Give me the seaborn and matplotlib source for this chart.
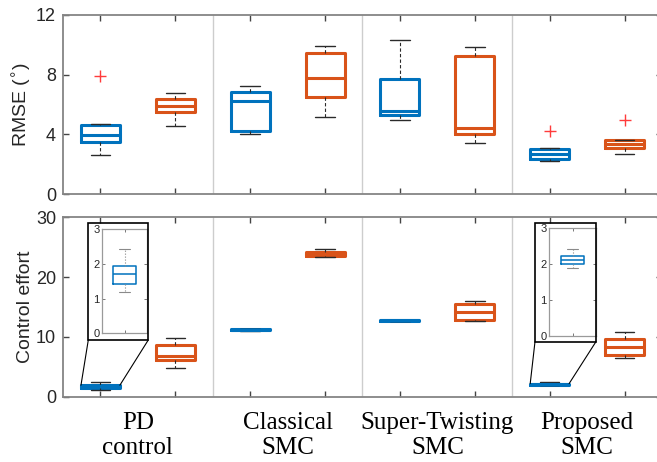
import numpy as np
import pandas as pd
import matplotlib
matplotlib.use("Agg")
import matplotlib.pyplot as plt
from matplotlib.patches import Rectangle, ConnectionPatch
import seaborn as sns

# categories / cases
methods = ["PD\ncontrol", "Classical\nSMC", "Super-Twisting\nSMC", "Proposed\nSMC"]
cases = ["Case 1", "Case 2"]

# RMSE (deg), one list of trials per method
rmse_case1 = [
    [2.63, 3.30, 3.47, 3.70, 3.94, 4.40, 4.63, 4.71, 7.90],
    [4.05, 4.15, 4.25, 5.40, 6.21, 6.60, 6.85, 7.05, 7.23],
    [4.96, 5.15, 5.30, 5.45, 5.58, 6.80, 7.72, 8.90, 10.29],
    [2.20, 2.28, 2.34, 2.52, 2.69, 2.90, 3.06, 3.08, 4.25],
]
rmse_case2 = [
    [4.58, 5.20, 5.50, 5.75, 5.92, 6.15, 6.37, 6.55, 6.79],
    [5.18, 6.10, 6.52, 7.10, 7.75, 8.60, 9.46, 9.70, 9.93],
    [3.41, 3.80, 4.01, 4.20, 4.43, 7.50, 9.26, 9.55, 9.86],
    [2.67, 2.95, 3.09, 3.22, 3.36, 3.50, 3.63, 3.65, 4.96],
]

# control effort
effort_case1 = [
    [1.18, 1.30, 1.42, 1.58, 1.71, 1.85, 1.93, 2.10, 2.41],
    [11.05, 11.12, 11.15, 11.18, 11.20, 11.22, 11.25, 11.28, 11.35],
    [12.65, 12.70, 12.72, 12.75, 12.77, 12.79, 12.82, 12.85, 12.90],
    [1.89, 1.94, 1.98, 2.04, 2.09, 2.15, 2.20, 2.30, 2.42],
]
effort_case2 = [
    [4.85, 5.60, 6.09, 6.45, 6.80, 7.90, 8.70, 9.30, 9.82],
    [23.30, 23.38, 23.45, 23.62, 23.80, 23.98, 24.15, 24.40, 24.70],
    [12.66, 12.75, 12.83, 13.50, 14.20, 14.90, 15.55, 15.75, 15.95],
    [6.47, 6.70, 6.92, 7.60, 8.31, 9.00, 9.65, 10.20, 10.87],
]

rmse_ticks = [0, 4, 8, 12]
effort_ticks = [0, 10, 20, 30]
inset_ticks = [0, 1, 2, 3]

blue = "#0072BD"
orange = "#D95319"
spine_col = "#858585"
text_col = "#262626"

sns.set_style("ticks")
plt.rcParams["font.family"] = ["Liberation Sans", "DejaVu Sans"]
plt.rcParams["axes.edgecolor"] = spine_col

rows = []
for i, m in enumerate(methods):
    for c, rl, el in [(cases[0], rmse_case1, effort_case1), (cases[1], rmse_case2, effort_case2)]:
        for r, e in zip(rl[i], el[i]):
            rows.append({"method": m, "case": c, "rmse": r, "effort": e})
df = pd.DataFrame(rows)

fig = plt.figure(figsize=(6.57, 4.62), dpi=100)
ax1 = fig.add_axes([0.0959, 0.5794, 0.9117, 0.3888])
ax2 = fig.add_axes([0.0959, 0.1413, 0.9117, 0.3884])

box_kw = dict(
    x="method", hue="case", palette=[blue, orange], fill=False,
    width=1.0, gap=0.48, linewidth=2.2, whis=1.5, legend=False,
    whiskerprops=dict(color="#2a2a2a", linewidth=0.8, linestyle=(0, (3, 2))),
    capprops=dict(color="#2a2a2a", linewidth=1.0),
    flierprops=dict(marker="+", markeredgecolor="#ff3b3b", markersize=9,
                    markeredgewidth=1.0),
)
sns.boxplot(data=df, y="rmse", ax=ax1, **box_kw)
sns.boxplot(data=df, y="effort", ax=ax2, **box_kw)

box_pos = (np.arange(len(methods))[:, None] + np.array([-0.25, 0.25])).ravel()

for ax, yt in [(ax1, rmse_ticks), (ax2, effort_ticks)]:
    ax.set_xlim(-0.5, 3.5)
    ax.set_ylim(yt[0], yt[-1])
    ax.set_yticks(yt)
    for xs in [0.5, 1.5, 2.5]:
        ax.axvline(xs, color="#cdcdcd", lw=1.0, zorder=0)
    ax.set_xticks(np.arange(len(methods)))
    ax.set_xticks(box_pos, minor=True)
    ax.tick_params(axis="x", which="major", length=0)
    ax.tick_params(axis="x", which="minor", direction="in", length=4,
                   width=1.0, top=True, bottom=True, color="#444444")
    ax.tick_params(axis="y", direction="in", length=4, width=1.0,
                   left=True, right=True, labelsize=13, labelcolor=text_col,
                   color="#444444", pad=5)
    for s in ax.spines.values():
        s.set_visible(True)
        s.set_color(spine_col)
        s.set_linewidth(1.3)
    ax.set_xlabel("")
    ax.yaxis.set_label_coords(-0.049, 0.5)

ax1.set_xticklabels([])
ax1.set_ylabel("RMSE ($^{\\circ}$)", fontsize=14, color=text_col)
ax2.set_ylabel("Control effort", fontsize=14, color=text_col)
ax2.set_xticklabels(methods, fontfamily="Liberation Serif", fontsize=18,
                    color="black", linespacing=1.2)
ax2.tick_params(axis="x", which="major", pad=11)

# zoomed insets for the small control-effort boxes
insets = [
    (0, [0.1557, 0.2786, 0.068, 0.2258], [0.1344, 0.2641, 0.0913, 0.2526]),
    (3, [0.8360, 0.2734, 0.071, 0.2338], [0.8143, 0.2604, 0.0928, 0.2563]),
]
for idx, ins_rect, frame in insets:
    vals = effort_case1[idx]
    ins = fig.add_axes(ins_rect)
    sns.boxplot(y=vals, ax=ins, color=blue, fill=False, width=0.5, linewidth=1.1,
                whiskerprops=dict(color="#8a8a8a", linewidth=0.8, linestyle=":"),
                capprops=dict(color="#8a8a8a", linewidth=0.8))
    ins.set_xlim(-0.5, 0.5)
    ins.set_ylim(inset_ticks[0], inset_ticks[-1])
    ins.set_yticks(inset_ticks)
    ins.set_xticks([0])
    ins.set_xticklabels([])
    ins.set_ylabel("")
    ins.tick_params(direction="in", length=2.5, width=0.7, labelsize=8,
                    labelcolor=text_col, color="#777777", pad=2, top=True, right=True)
    for s in ins.spines.values():
        s.set_visible(True)
        s.set_color("#9a9a9a")
        s.set_linewidth(0.9)
    fig.add_artist(Rectangle((frame[0], frame[1]), frame[2], frame[3],
                             transform=fig.transFigure, fill=False,
                             ec="black", lw=1.2, zorder=5))
    pos = idx - 0.25
    q3 = np.percentile(vals, 75)
    for fx, bx in [(frame[0], pos - 0.13), (frame[0] + frame[2], pos + 0.13)]:
        con = ConnectionPatch(xyA=(fx, frame[1]), coordsA="figure fraction",
                              xyB=(bx, q3), coordsB=ax2.transData,
                              color="black", lw=0.8)
        fig.add_artist(con)

fig.savefig("out.png", dpi=100)
